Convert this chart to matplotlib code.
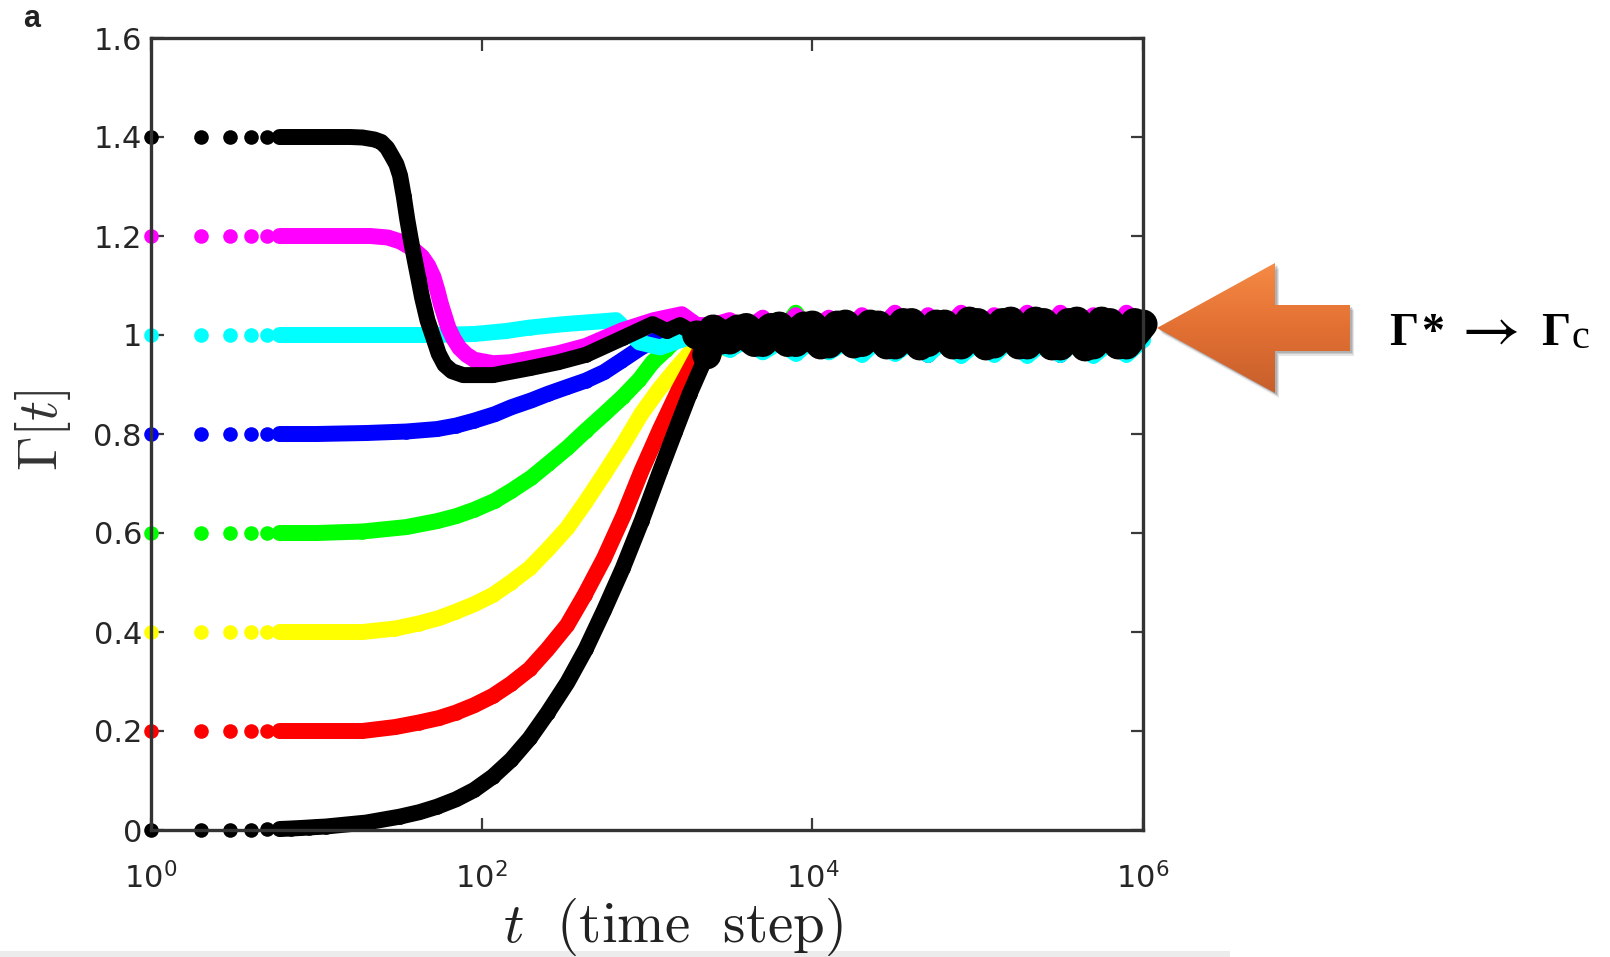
import numpy as np
import matplotlib
matplotlib.use("Agg")
import matplotlib.pyplot as plt
from matplotlib.patches import Polygon, Rectangle
from matplotlib.colors import LinearSegmentedColormap
from matplotlib.ticker import NullLocator

plt.rcParams['mathtext.fontset'] = 'dejavusans'

# ---------------- data ----------------
X_TICKS = [1, 1e2, 1e4, 1e6]
X_TICK_LABELS = [r'$10^{0}$', r'$10^{2}$', r'$10^{4}$', r'$10^{6}$']
Y_TICKS = [0, 0.2, 0.4, 0.6, 0.8, 1.0, 1.2, 1.4, 1.6]
Y_TICK_LABELS = ['0', '0.2', '0.4', '0.6', '0.8', '1', '1.2', '1.4', '1.6']

T_EARLY = [1, 2, 3, 4, 5, 6, 7, 8, 9, 10]

# transient part of each run
t_k14 = T_EARLY + [13, 16, 19, 22.4, 24.7, 26.8, 28.8, 30.5, 32.1, 33.8, 35.5, 37.4, 39.4,
                   41.5, 43.6, 47, 51.1, 55, 59.6, 66, 77.3, 117, 195, 290, 427, 714, 1081,
                   1318, 1585, 2000]
g_k14 = [1.4, 1.4, 1.4, 1.4, 1.4, 1.4, 1.4, 1.4, 1.4, 1.4,
         1.4, 1.4, 1.399, 1.395, 1.39, 1.378, 1.36, 1.345, 1.322, 1.28, 1.233, 1.19, 1.151,
         1.113, 1.076, 1.03, 0.994, 0.962, 0.94, 0.927, 0.919, 0.919, 0.933, 0.945, 0.96,
         0.994, 1.022, 1.008, 1.02, 1.0]

t_m = T_EARLY + [13, 16, 21.2, 27, 32.1, 38, 43.6, 47.5, 51.1, 54, 56.6, 59.5, 62.8, 67.5,
                 73.3, 81, 90.2, 117, 150, 195, 290, 427, 714, 1100, 1622, 2000]
g_m = [1.2, 1.2, 1.2, 1.2, 1.2, 1.2, 1.2, 1.2, 1.2, 1.2,
       1.2, 1.2, 1.2, 1.197, 1.189, 1.175, 1.158, 1.14, 1.117, 1.09, 1.063, 1.04, 1.015,
       0.993, 0.974, 0.96, 0.95, 0.943, 0.945, 0.952, 0.963, 0.978, 1.01, 1.03, 1.042, 1.02]

t_c = T_EARLY + [15, 25, 50, 90, 140, 195, 316, 550, 650, 900, 1200, 1600, 2000]
g_c = [1.0, 1.0, 1.0, 1.0, 1.0, 1.0, 1.0, 1.0, 1.0, 1.0,
       1.0, 1.0, 1.0, 1.002, 1.008, 1.015, 1.022, 1.028, 1.03, 0.985, 0.975, 0.99, 1.0]

t_b = T_EARLY + [20, 35, 53.7, 70, 90.2, 120, 151, 200, 251, 330, 427, 550, 700, 925, 1300,
                 2000]
g_b = [0.8, 0.8, 0.8, 0.8, 0.8, 0.8, 0.8, 0.8, 0.8, 0.8,
       0.802, 0.805, 0.81, 0.817, 0.827, 0.84, 0.854, 0.868, 0.881, 0.895, 0.908, 0.925,
       0.948, 0.975, 1.0, 1.01]

t_g = T_EARLY + [19, 35, 53.7, 70, 90.2, 120, 151, 200, 251, 330, 427, 550, 714, 900, 1081,
                 1300, 1500, 2000]
g_g = [0.6, 0.6, 0.6, 0.6, 0.6, 0.6, 0.6, 0.6, 0.6, 0.6,
       0.603, 0.612, 0.624, 0.634, 0.647, 0.665, 0.685, 0.712, 0.739, 0.772, 0.807, 0.84,
       0.875, 0.91, 0.945, 0.97, 0.99, 1.0]

t_y = T_EARLY + [19, 30, 41.5, 55, 69.7, 90, 117, 150, 195, 250, 329, 420, 550, 720, 925,
                 1180, 1479, 2000]
g_y = [0.4, 0.4, 0.4, 0.4, 0.4, 0.4, 0.4, 0.4, 0.4, 0.4,
       0.4, 0.407, 0.417, 0.428, 0.441, 0.456, 0.475, 0.5, 0.529, 0.566, 0.61, 0.66, 0.719,
       0.78, 0.841, 0.89, 0.93, 0.98]

t_r = T_EARLY + [19, 30, 41.5, 55, 69.7, 90, 117, 150, 195, 250, 329, 420, 550, 720, 925,
                 1200, 1549, 2100]
g_r = [0.2, 0.2, 0.2, 0.2, 0.2, 0.2, 0.2, 0.2, 0.2, 0.2,
       0.2, 0.208, 0.217, 0.226, 0.237, 0.252, 0.271, 0.295, 0.325, 0.365, 0.414, 0.475,
       0.549, 0.635, 0.725, 0.81, 0.888, 0.97]

t_k0 = T_EARLY + [11.4, 20, 32, 42, 53.7, 70, 90.2, 117, 151, 195, 251, 330, 427, 550, 714,
                  930, 1200, 1480, 1811, 2300]
g_k0 = [0.0, 0.0, 0.0, 0.001, 0.002, 0.002, 0.003, 0.004, 0.005, 0.006,
        0.007, 0.015, 0.027, 0.036, 0.047, 0.062, 0.081, 0.108, 0.142, 0.185, 0.237, 0.298,
        0.366, 0.444, 0.529, 0.625, 0.725, 0.805, 0.881, 0.96]

# fluctuating steady state (estimated excursions)
T_SS = [2512, 3162, 3981, 5012, 6310, 7943, 10000, 12589, 15849, 19953, 25119, 31623,
        39811, 50119, 63096, 79433, 100000, 125893, 158489, 199526, 251189, 316228,
        398107, 501187, 630957, 794328, 1000000]
T_SS_B = [2818, 3548, 4467, 5623, 7079, 8913, 11220, 14125, 17783, 22387, 28184, 35481,
          44668, 56234, 70795, 89125, 112202, 141254, 177828, 223872, 281838, 354813,
          446684, 562341, 707946, 891251]
ss_k0 = [1.012, 0.99, 1.015, 0.985, 1.018, 0.985, 1.02, 0.982, 1.022, 0.985, 1.02, 0.98,
         1.025, 0.985, 1.022, 0.98, 1.025, 0.982, 1.028, 0.98, 1.025, 0.978, 1.028, 0.98,
         1.025, 0.98, 1.022]
ss_k14 = [0.99, 1.012, 0.985, 1.015, 0.985, 1.018, 0.98, 1.02, 0.982, 1.022, 0.98, 1.025,
          0.978, 1.022, 0.98, 1.028, 0.978, 1.025, 0.98, 1.028, 0.978, 1.025, 0.976, 1.028,
          0.98, 1.025]
ss_m = [1.02, 1.03, 1.01, 1.035, 1.0, 1.04, 1.01, 1.035, 1.0, 1.04, 1.01, 1.045, 1.0, 1.04,
        1.01, 1.045, 1.0, 1.04, 1.01, 1.045, 1.0, 1.045, 1.01, 1.04, 1.0, 1.045, 1.02]
ss_c = [0.985, 0.97, 0.99, 0.965, 0.985, 0.962, 0.99, 0.965, 0.985, 0.96, 0.99, 0.962,
        0.985, 0.96, 0.99, 0.958, 0.985, 0.96, 0.99, 0.958, 0.985, 0.96, 0.99, 0.958, 0.985,
        0.96, 0.99]
ss_b = [1.0, 0.99, 1.01, 0.98, 1.0, 0.97, 1.01, 0.99, 1.0, 0.965, 1.01, 0.99, 1.0, 0.96,
        1.01, 0.99, 1.0, 0.965, 1.01, 0.99, 1.0, 0.96, 1.01, 0.99, 1.0, 0.965, 1.0]
ss_g = [1.0, 1.01, 0.99, 1.02, 1.0, 1.045, 1.0, 1.01, 0.99, 1.02, 1.0, 1.01, 0.99, 1.02,
        1.0, 1.01, 0.99, 1.03, 1.0, 1.01, 0.99, 1.02, 1.0, 1.01, 0.99, 1.02, 1.0]
ss_y = [0.96, 1.0, 1.01, 1.03, 1.0, 0.99, 1.01, 1.0, 0.99, 1.01, 1.0, 1.02, 0.99, 1.0, 1.01,
        0.99, 1.0, 1.02, 0.99, 1.0, 1.01, 0.99, 1.0, 1.02, 0.99, 1.0, 1.0]
ss_r = [1.01, 0.99, 1.0, 1.01, 0.99, 1.0, 1.02, 0.99, 1.0, 1.01, 0.99, 1.0, 1.01, 0.99, 1.0,
        1.02, 0.99, 1.0, 1.01, 0.99, 1.0, 1.01, 0.99, 1.0, 1.01, 0.99, 1.0]

SERIES = [  # drawing order: colour, transient t, transient value, steady t, steady value
    ('#00ff00', t_g, g_g, T_SS, ss_g),
    ('#ffff00', t_y, g_y, T_SS, ss_y),
    ('#ff0000', t_r, g_r, T_SS, ss_r),
    ('#0000ff', t_b, g_b, T_SS, ss_b),
    ('#00ffff', t_c, g_c, T_SS, ss_c),
    ('#ff00ff', t_m, g_m, T_SS, ss_m),
    ('#000000', t_k14, g_k14, T_SS_B, ss_k14),
    ('#000000', t_k0, g_k0, T_SS, ss_k0),
]

# ---------------- figure ----------------
W, H = 1610, 957
fig = plt.figure(figsize=(W / 100, H / 100), dpi=100)
fig.patch.set_facecolor('white')
ax = fig.add_axes([151 / W, 1 - 830 / H, (1143 - 151) / W, (830 - 38) / H])

MS = 10.5
LW = 11.5
LW_SS_BLACK = 21   # the dense cloud of black points in the saturated regime
line_kw = dict(solid_joinstyle='round', solid_capstyle='round', clip_on=False, zorder=2)
for col, t, g, ts, ss in SERIES:
    tt = np.array(t, dtype=float)
    gg = np.array(g, dtype=float)
    ax.plot(np.r_[tt, ts], np.r_[gg, ss], ls='none', marker='o', ms=MS, mfc=col, mec=col,
            mew=0, clip_on=False, zorder=2)
    sel = tt >= 6
    ax.plot(tt[sel], gg[sel], '-', color=col, lw=LW, **line_kw)
    lw_ss = LW_SS_BLACK if col == '#000000' else LW
    ax.plot(np.r_[tt[-1], ts], np.r_[gg[-1], ss], '-', color=col, lw=lw_ss, **line_kw)

ax.set_xscale('log')
ax.set_xlim(1, 1e6)
ax.set_ylim(0, 1.6)
ax.set_xticks(X_TICKS)
ax.set_xticklabels(X_TICK_LABELS)
ax.xaxis.set_minor_locator(NullLocator())
ax.set_yticks(Y_TICKS)
ax.set_yticklabels(Y_TICK_LABELS)
for lab in ax.get_xticklabels() + ax.get_yticklabels():
    lab.set_fontfamily('DejaVu Sans')
ax.tick_params(axis='both', which='major', direction='in', length=9, width=1.6,
               top=True, right=True, colors='#3a3a3a', labelcolor='#262626', labelsize=22)
ax.tick_params(axis='x', pad=23)
ax.tick_params(axis='y', pad=6.5)
for sp in ax.spines.values():
    sp.set_linewidth(2.4)
    sp.set_color('#333333')

# ---------------- overlay in pixel coordinates ----------------
ov = fig.add_axes([0, 0, 1, 1], zorder=5)
ov.set_xlim(0, W)
ov.set_ylim(H, 0)
ov.axis('off')
ov.patch.set_alpha(0)

# faint strip at the bottom of the source image
ov.add_patch(Rectangle((0, 951), 1230, 6, fc='#ececec', ec='none', zorder=4))

ov.text(32, 19, 'a', fontsize=22, fontweight='bold', fontfamily='Liberation Sans',
        ha='center', va='center', color='#222222')
ov.text(673, 942, r'$t\ \ \mathrm{(time\ \ step)}$', math_fontfamily='cm', fontsize=41,
        ha='center', va='baseline', color='#222222', zorder=6)
ov.text(43, 430, r'$\Gamma[t]$', math_fontfamily='cm', fontsize=40, rotation=90,
        ha='center', va='center', color='#333333')

# block arrow with gradient and shadow
pts = [(1157, 328), (1275, 263), (1275, 305), (1350, 305), (1350, 351), (1275, 351), (1275, 393)]
for dx, dy, a in [(4, 5, 0.10), (3, 3, 0.12), (2, 2, 0.12)]:
    ov.add_patch(Polygon([(x + dx, y + dy) for x, y in pts], closed=True, fc='black',
                         ec='none', alpha=a, zorder=5))
poly = Polygon(pts, closed=True, fc='none', ec='none', zorder=6)
ov.add_patch(poly)
cmap = LinearSegmentedColormap.from_list('org', ['#f68a45', '#e27033', '#c75f2c'])
grad = np.linspace(0, 1, 256)[:, None]
im = ov.imshow(grad, extent=(1157, 1350, 393, 263), cmap=cmap, aspect='auto', zorder=6,
               interpolation='bilinear')
im.set_clip_path(poly)
ov.set_xlim(0, W)
ov.set_ylim(H, 0)

# label  Γ* → Γc
tk = dict(fontfamily='Liberation Serif', color='black', va='baseline', ha='left')
ov.text(1389, 345, 'Γ', fontsize=33, fontweight='bold', **tk)
ov.text(1421, 345, '*', fontsize=33, fontweight='bold', **tk)
ov.text(1452, 347, r'$\rightarrow$', math_fontfamily='stix', fontsize=46, **tk)
ov.text(1541, 345, 'Γ', fontsize=33, fontweight='bold', **tk)
ov.text(1571, 348, 'c', fontsize=29, **tk)

fig.savefig('out.png', dpi=100)
